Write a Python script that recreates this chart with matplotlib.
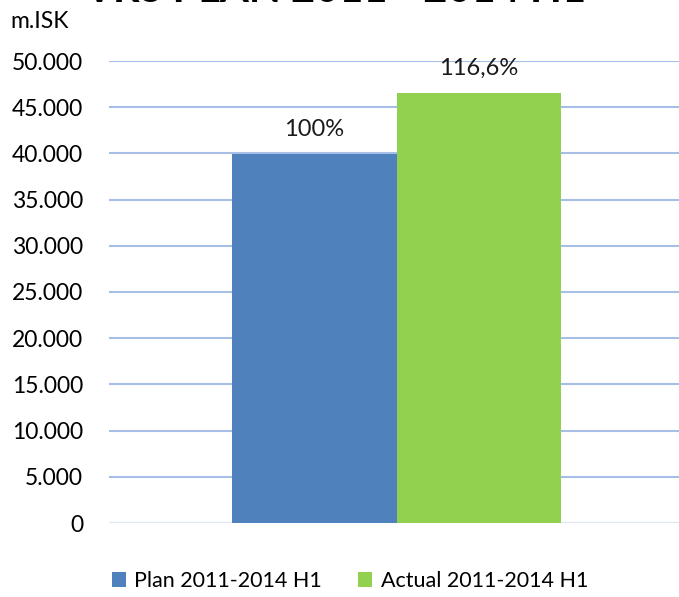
import matplotlib.pyplot as plt

# values (m.ISK)
categories = ["Plan 2011-2014 H1", "Actual 2011-2014 H1"]
values = [39900, 46520]
pct_labels = ["100%", "116,6%"]
colors = ["#4F81BD", "#92D050"]
yticks = list(range(0, 50001, 5000))
ytick_labels = ["0"] + ["{:,}".format(v).replace(",", ".") for v in yticks[1:]]

plt.rcParams['font.family'] = ['Lato', 'DejaVu Sans']

fig = plt.figure(figsize=(6.79, 5.97), dpi=100)
W, H = 679, 597
ax = fig.add_axes([109 / W, 1 - 523 / H, 575 / W, 462 / H])

bar_w = 0.286
xs = [-bar_w / 2, bar_w / 2]
bars = ax.bar(xs, values, width=bar_w, color=colors, label=categories, zorder=3)
for b, lab in zip(bars, pct_labels):
    ax.text(b.get_x() + b.get_width() / 2, b.get_height() + 1500, lab,
            ha='center', va='bottom', fontsize=17, color='#1a1a1a')

ax.set_xlim(-0.5, 0.5)
ax.set_ylim(0, 50000)
ax.set_yticks(yticks)
ax.set_yticklabels(ytick_labels, fontsize=16.5)
ax.set_xticks([])
ax.tick_params(axis='y', length=0, pad=18.7)
for v in yticks:
    ax.axhline(v, color="#dce6f2" if v == 0 else "#a7bfe6", lw=1.5, zorder=1)
for s in ax.spines.values():
    s.set_visible(False)

fig.text(40 / W, 1 - 22 / H, "m.ISK", ha='center', va='center', fontsize=16.5)
# title is mostly cropped at the top of the picture
fig.text(335 / W, 1 - 2 / H, "VRS PLAN 2011 - 2014 H1", ha='center',
         va='baseline', fontsize=30, fontweight='bold')

ax.legend(loc='center', bbox_to_anchor=(350 / W, 1 - 581 / H),
          bbox_transform=fig.transFigure, ncol=2, frameon=False, fontsize=15.5,
          handlelength=0.65, handleheight=0.65, handletextpad=0.4, columnspacing=1.7)

fig.savefig("out.png", dpi=100)
